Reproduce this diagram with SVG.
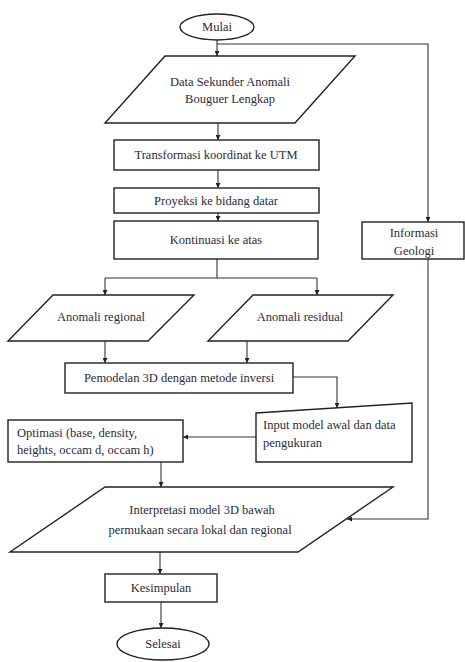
<svg xmlns="http://www.w3.org/2000/svg" width="465" height="662" viewBox="0 0 465 662">
<style>
.s{fill:#fff;stroke:#222;stroke-width:1.4}
.c{fill:none;stroke:#333;stroke-width:1.1}
text{font-family:"Liberation Serif","Times New Roman",serif;font-size:12.5px;fill:#2a2a3a}
.m{text-anchor:middle}
</style>
<defs>
<marker id="a" viewBox="0 0 10 10" refX="10" refY="5" markerWidth="5" markerHeight="5" orient="auto" markerUnits="userSpaceOnUse"><path d="M0,0L10,5L0,10z" fill="#222"/></marker>
</defs>
<rect width="465" height="662" fill="#fff"/>
<g id="connectors">
<path class="c" d="M217,40V56" marker-end="url(#a)"/>
<path class="c" d="M217,44H428V222" marker-end="url(#a)"/>
<path class="c" d="M218,123V140" marker-end="url(#a)"/>
<path class="c" d="M218,170V188" marker-end="url(#a)"/>
<path class="c" d="M218,213V221" marker-end="url(#a)"/>
<path class="c" d="M217,259V278"/>
<path class="c" d="M105,278H317"/>
<path class="c" d="M105,278V295" marker-end="url(#a)"/>
<path class="c" d="M317,278V295" marker-end="url(#a)"/>
<path class="c" d="M105,341V363" marker-end="url(#a)"/>
<path class="c" d="M247,341V363" marker-end="url(#a)"/>
<path class="c" d="M293,377H337V408" marker-end="url(#a)"/>
<path class="c" d="M256,437H183" marker-end="url(#a)"/>
<path class="c" d="M161,462V487" marker-end="url(#a)"/>
<path class="c" d="M428,259V519H347" marker-end="url(#a)"/>
<path class="c" d="M160,552V574" marker-end="url(#a)"/>
<path class="c" d="M161,602V628" marker-end="url(#a)"/>
</g>
<g id="mulai"><ellipse class="s" cx="217" cy="27" rx="37" ry="13"/><text class="m" x="217" y="31">Mulai</text></g>
<g id="data"><polygon class="s" points="165,56 355,56 295,123 105,123"/><text class="m" x="230" y="86">Data Sekunder Anomali</text><text class="m" x="230" y="103">Bouguer Lengkap</text></g>
<g id="transformasi"><rect class="s" x="114" y="140" width="205" height="30"/><text class="m" x="216" y="159">Transformasi koordinat ke UTM</text></g>
<g id="proyeksi"><rect class="s" x="114" y="188" width="205" height="25"/><text class="m" x="216" y="205">Proyeksi ke bidang datar</text></g>
<g id="kontinuasi"><rect class="s" x="114" y="221" width="204" height="38"/><text class="m" x="216" y="244">Kontinuasi ke atas</text></g>
<g id="regional"><polygon class="s" points="53,295 194,295 148,341 8,341"/><text class="m" x="101" y="321">Anomali regional</text></g>
<g id="residual"><polygon class="s" points="253,295 393,295 348,341 208,341"/><text class="m" x="300" y="321">Anomali residual</text></g>
<g id="pemodelan"><rect class="s" x="65" y="363" width="228" height="30"/><text class="m" x="179" y="382">Pemodelan 3D dengan metode inversi</text></g>
<g id="input"><polygon class="s" points="256,413 412,403 412,462 256,462"/><text x="263" y="429">Input model awal dan data</text><text x="263" y="447">pengukuran</text></g>
<g id="optimasi"><rect class="s" x="8" y="420" width="175" height="42"/><text x="17" y="437">Optimasi (base, density,</text><text x="17" y="454">heights, occam d, occam h)</text></g>
<g id="interpretasi"><polygon class="s" points="105,487 393,487 298,552 10,552"/><text class="m" x="202" y="514">Interpretasi model 3D bawah</text><text class="m" x="200" y="534">permukaan secara lokal dan regional</text></g>
<g id="geologi"><rect class="s" x="362" y="222" width="102" height="37"/><text class="m" x="414" y="237">Informasi</text><text class="m" x="414" y="255">Geologi</text></g>
<g id="kesimpulan"><rect class="s" x="105" y="574" width="112" height="28"/><text class="m" x="161" y="592">Kesimpulan</text></g>
<g id="selesai"><ellipse class="s" cx="163" cy="644" rx="46" ry="16"/><text class="m" x="163" y="648">Selesai</text></g>
</svg>
